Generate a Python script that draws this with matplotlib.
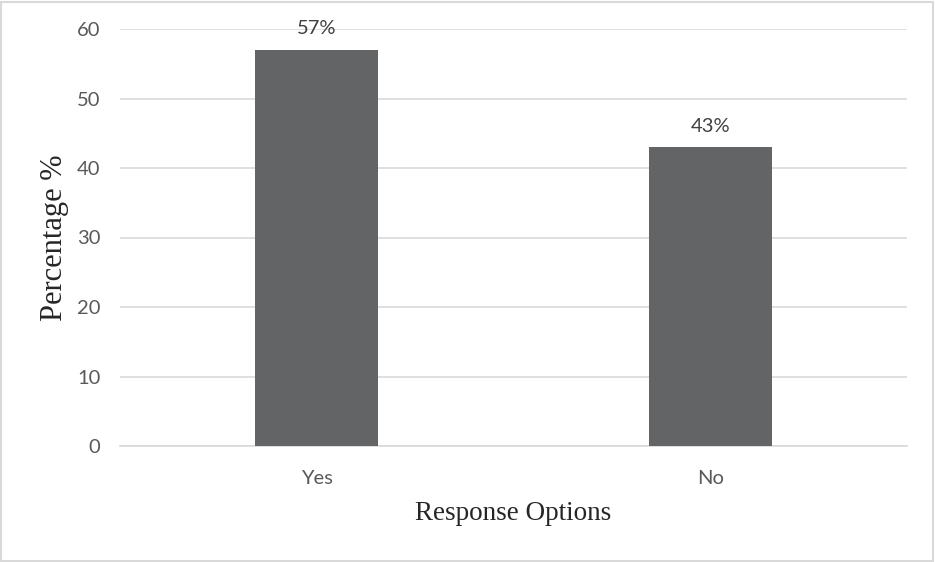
import matplotlib
matplotlib.use("Agg")
import matplotlib.pyplot as plt
from matplotlib.patches import Rectangle

# data
categories = ["Yes", "No"]
percentages = [57, 43]
value_labels = ["57%", "43%"]
y_ticks = [0, 10, 20, 30, 40, 50, 60]

W, H = 935, 562
fig = plt.figure(figsize=(W / 100, H / 100), dpi=100)
ax = fig.add_axes([120 / W, 1 - 446 / H, (907 - 120) / W, (446 - 29) / H])

x = range(len(categories))
ax.bar(x, percentages, width=0.312, color="#636466", zorder=3)

for xi, v, lab in zip(x, percentages, value_labels):
    ax.annotate(lab, (xi, v), textcoords="offset points", xytext=(0, 9),
                ha="center", va="bottom", fontsize=14.5, color="#404040",
                family="Lato")

ax.set_xlim(-0.5, len(categories) - 0.5)
ax.set_ylim(0, 60)
ax.set_yticks(y_ticks)
ax.set_xticks(list(x))
ax.set_xticklabels(categories)
ax.grid(axis="y", color="#d9d9d9", linewidth=1.2, zorder=0)
for s in ["top", "right", "left"]:
    ax.spines[s].set_visible(False)
ax.spines["bottom"].set_color("#d9d9d9")
ax.spines["bottom"].set_linewidth(1.2)
ax.tick_params(length=0, labelsize=14.5, labelcolor="#595959")
ax.tick_params(axis="y", pad=14)
ax.tick_params(axis="x", pad=17)
for t in ax.get_xticklabels() + ax.get_yticklabels():
    t.set_family("Lato")

ax.set_xlabel("Response Options", family="Liberation Serif", fontsize=19.5,
              color="#262626", labelpad=10)
ax.set_ylabel("Percentage %", family="Liberation Serif", fontsize=22,
              color="#262626", labelpad=6)

# outer chart border
fig.patches.append(Rectangle((1 / W, 1 / H), 1 - 3 / W, 1 - 3 / H,
                             transform=fig.transFigure, fill=False,
                             edgecolor="#d9d9d9", linewidth=1.5))

fig.savefig("out.png", dpi=100)
